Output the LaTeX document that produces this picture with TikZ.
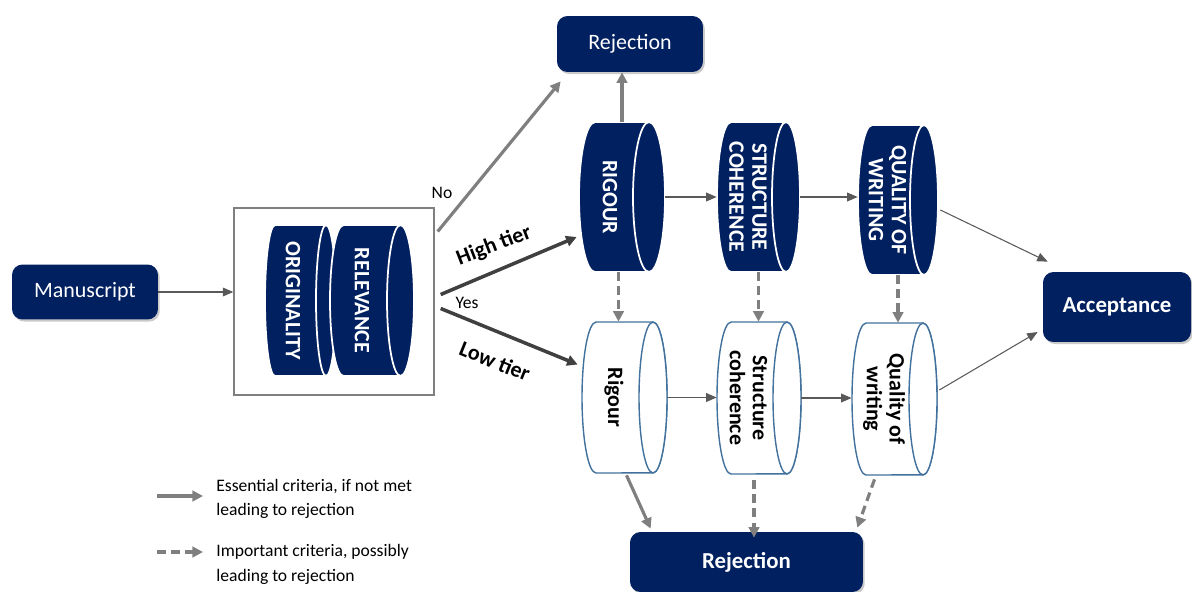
\documentclass[tikz,border=0pt]{standalone}
\usepackage{fontspec}
\setmainfont{Carlito}
\usetikzlibrary{positioning,shapes,arrows.meta,calc,shadows}
\definecolor{navy}{RGB}{0,32,96}
\definecolor{steel}{RGB}{65,113,156}
\definecolor{midgray}{RGB}{127,127,127}
\definecolor{tiergray}{RGB}{64,64,64}
\definecolor{thingray}{RGB}{89,89,89}

% drum: name, x, y, width, height, cap radius, style, text
\newcommand{\drum}[8]{%
	\pgfmathsetmacro\drumgap{1.5*#6*0.02*28.45274}%
	\filldraw[#7] ({#2-#4/2+#6},{#3-#5/2}) -- ({#2+#4/2-#6},{#3-#5/2})
		arc[start angle=90,end angle=-90,x radius={#6*0.02cm},y radius={#5*0.01cm}]
		-- ({#2-#4/2+#6},{#3+#5/2})
		arc[start angle=270,end angle=90,x radius={#6*0.02cm},y radius={#5*0.01cm}] -- cycle;
	\draw[#7] ({#2+#4/2-#6},#3) ellipse[x radius={#6*0.02cm},y radius={#5*0.01cm}];
	\node[drum label,#7 text,minimum width={#4*0.02cm},minimum height={#5*0.02cm}] (#1) at (#2,#3) {\rotatebox{-90}{#8}\rule{\drumgap pt}{0pt}};
}
\newcommand{\twolines}[2]{\vbox{\baselineskip=13pt\halign{\hfil##\hfil\cr#1\cr#2\cr}}}

\begin{document}
\begin{tikzpicture}[x=0.02cm,y=-0.02cm,
	block/.style={rounded corners=6pt,fill=navy,text=white,inner sep=0pt,
		font=\fontsize{12.5}{15}\selectfont,
		drop shadow={shadow xshift=1pt,shadow yshift=-1.2pt,opacity=.35,fill=black!60}},
	dark/.style={fill=navy,draw=white,line width=1pt},
	light/.style={fill=white,draw=steel,line width=0.8pt},
	dark text/.style={text=white},
	light text/.style={text=black},
	drum label/.style={inner sep=0pt,font=\fontsize{12.5}{15}\selectfont\bfseries},
	lbl/.style={inner sep=1pt,font=\fontsize{10}{12}\selectfont},
	tierlbl/.style={inner sep=1pt,font=\fontsize{12.5}{15}\selectfont\bfseries},
	legend/.style={anchor=west,align=left,inner sep=0pt,font=\fontsize{10}{14}\selectfont},
	thin arrow/.style={-{Triangle[length=6pt,width=5pt]},thingray,line width=0.6pt},
	thick arrow/.style={-{Triangle[length=6pt,width=6pt]},midgray,line width=1.8pt},
	soft arrow/.style={thick arrow,dash pattern=on 5pt off 3pt},
	tier/.style={thick arrow,tiergray,line width=2pt}]
	\useasboundingbox (0,0) rectangle (1192,591);

	% end boxes
	\node[block,minimum width=2.92cm,minimum height=1.1cm] (manu) at (85,292) {Manuscript};
	\node[block,minimum width=2.92cm,minimum height=1.12cm] (rejT) at (630,44) {Rejection};
	\node[block,minimum width=4.66cm,minimum height=1.2cm,font=\fontsize{13}{15}\selectfont\bfseries] (rejB) at (746.5,562) {Rejection};
	\node[block,minimum width=2.96cm,minimum height=1.4cm,font=\fontsize{13}{15}\selectfont\bfseries] (acc) at (1117,307) {Acceptance};

	% first gate
	\node[draw=midgray,line width=0.8pt,minimum width=4cm,minimum height=3.74cm] (gate) at (334,301.5) {};
	\drum{orig}{300.5}{300.5}{71}{151}{10}{dark}{ORIGINALITY}
	\drum{relev}{372}{300.5}{84}{151}{13.5}{dark}{RELEVANCE}

	% high tier
	\drum{rigH}{622}{197}{86}{150}{16}{dark}{RIGOUR}
	\drum{strH}{758.5}{197}{83}{150}{14}{dark}{\twolines{STRUCTURE}{COHERENCE}}
	\drum{quaH}{898}{200}{80}{150}{14}{dark}{\twolines{QUALITY OF}{WRITING}}

	% low tier
	\drum{rigL}{624.5}{397.5}{85}{151}{14}{light}{Rigour}
	\drum{strL}{759}{398}{84}{152}{14}{light}{\twolines{Structure}{coherence}}
	\drum{quaL}{894.5}{399}{85}{152}{14}{light}{\twolines{Quality of}{writing}}

	% labels
	\node[lbl] (no) at (442,193) {No};
	\node[lbl] (yes) at (467,303) {Yes};
	\node[tierlbl,rotate=21] (high) at (494,246) {High tier};
	\node[tierlbl,rotate=-22] (low) at (495,361) {Low tier};

	% connectors
	\draw[thin arrow] (manu.east) -- (manu.east -| gate.west);
	\draw[thick arrow] ([shift={(3,-70)}]gate.east) -- ([shift={(4,9)}]rejT.south west);
	\draw[tier] ([shift={(6,-7)}]gate.east) -- ([shift={(-2,40)}]rigH.west);
	\draw[tier] ([shift={(6,7)}]gate.east) -- ([shift={(-4,-33)}]rigL.west);
	\draw[thick arrow] (rigH.north) -- (rigH.north |- rejT.south);
	\draw[thin arrow] (rigH.east) -- (strH.west);
	\draw[thin arrow] (strH.east) -- (strH.east -| quaH.west);
	\draw[thin arrow] ([shift={(2,10)}]quaH.east) -- ([shift={(5,-10)}]acc.north west);
	\draw[thin arrow] (rigL.east) -- (rigL.east -| strL.west);
	\draw[thin arrow] (strL.east) -- (strL.east -| quaL.west);
	\draw[thin arrow] ([shift={(2,-9)}]quaL.east) -- ([shift={(-5,25)}]acc.west);
	\draw[soft arrow] ([xshift=-2pt]rigH.south) -- ([xshift=-2pt]rigH.south |- rigL.north);
	\draw[soft arrow] (strH.south) -- (strH.south |- strL.north);
	\draw[soft arrow] (quaH.south) -- (quaH.south |- quaL.north);
	\draw[thick arrow] ([shift={(2,2)}]rigL.south) -- ([shift={(21,-3)}]rejB.north west);
	\draw[soft arrow] ([shift={(-5,6)}]strL.south) -- ([shift={(-5,6)}]strL.south |- rejB.north);
	\draw[soft arrow] ([shift={(-20,4)}]quaL.south) -- ([shift={(-6,-4)}]rejB.north east);

	% legend
	\coordinate (essA) at (157,496);
	\coordinate (essB) at (203,496);
	\draw[thick arrow] (essA) -- (essB);
	\node[legend] (essT) at (216,499) {Essential criteria, if not met\\leading to rejection};
	\coordinate (impA) at (157,552);
	\coordinate (impB) at (203,552);
	\draw[soft arrow] (impA) -- (impB);
	\node[legend] (impT) at (216,564.5) {Important criteria, possibly\\leading to rejection};
\end{tikzpicture}
\end{document}
